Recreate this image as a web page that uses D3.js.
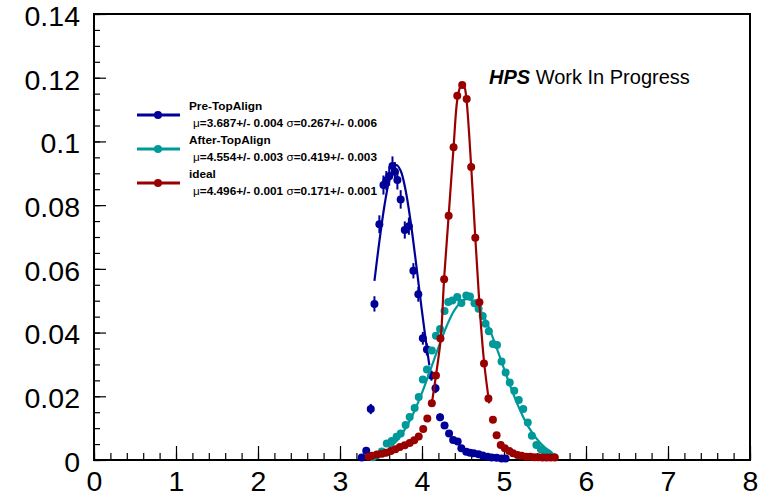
<!DOCTYPE html>
<html>
<head>
<meta charset="utf-8">
<script src="https://cdn.jsdelivr.net/npm/d3@7"></script>
<style>
  body { margin: 0; background: #fff; }
  text { font-family: "Liberation Sans", Helvetica, Arial, sans-serif; }
</style>
</head>
<body>
<div id="chart"></div>
<script>
// values
var xTicks = [0, 1, 2, 3, 4, 5, 6, 7, 8];
var yTicks = [0, 0.02, 0.04, 0.06, 0.08, 0.1, 0.12, 0.14];
var yTickLabels = ["0", "0.02", "0.04", "0.06", "0.08", "0.1", "0.12", "0.14"];

var preX = [3.265, 3.32, 3.375, 3.42, 3.48, 3.53, 3.565, 3.60, 3.64, 3.67, 3.70, 3.74, 3.79, 3.84, 3.895, 3.955,
  4.01, 4.06, 4.115, 4.165, 4.22, 4.275, 4.33, 4.38, 4.435, 4.48, 4.54, 4.585, 4.63, 4.69, 4.74, 4.80, 4.85, 4.91, 4.97, 5.02];
var preY = [0.0008, 0.0029, 0.016, 0.049, 0.074, 0.0863, 0.0877, 0.0891, 0.0923, 0.0905, 0.0879, 0.0818, 0.0722, 0.0734, 0.0594, 0.052,
  0.0382, 0.0347, 0.0265, 0.0225, 0.0134, 0.0108, 0.0083, 0.0063, 0.0058, 0.0037, 0.0026, 0.0023, 0.0021, 0.0018, 0.0014, 0.0010, 0.0008, 0.0007, 0.0005, 0.0005];
var preErr = [0.0004, 0.0007, 0.0016, 0.0024, 0.0028, 0.003, 0.003, 0.003, 0.003, 0.003, 0.003, 0.0029, 0.0027, 0.0027, 0.0024, 0.0023,
  0.002, 0.0019, 0.0016, 0.0015, 0.0012, 0.001, 0.0009, 0.0008, 0.0008, 0.0006, 0.0005, 0.0005, 0.0005, 0.0004, 0.0004, 0.0003, 0.0003, 0.0003, 0.0002, 0.0002];

var afterX = [3.40, 3.45, 3.51, 3.57, 3.63, 3.69, 3.74, 3.80, 3.85, 3.91, 3.96, 4.01, 4.06, 4.12, 4.17, 4.22, 4.275, 4.32, 4.37, 4.43,
  4.48, 4.54, 4.585, 4.64, 4.69, 4.74, 4.775, 4.815, 4.865, 4.915, 4.97, 5.02, 5.07, 5.125, 5.18, 5.235, 5.29, 5.34, 5.395, 5.45, 5.50, 5.55, 5.60];
var afterY = [0.0009, 0.0015, 0.0027, 0.0052, 0.006, 0.0073, 0.0083, 0.0110, 0.0135, 0.0163, 0.0198, 0.0253, 0.0284, 0.0344, 0.0390, 0.0411, 0.0468, 0.0496, 0.0501, 0.0512,
  0.0493, 0.0516, 0.0513, 0.0492, 0.0475, 0.0452, 0.0428, 0.0404, 0.0364, 0.0361, 0.0309, 0.0275, 0.0243, 0.0217, 0.0188, 0.0160, 0.0118, 0.0076, 0.0047, 0.0034, 0.0024, 0.0018, 0.0010];

var idealX = [3.35, 3.39, 3.45, 3.51, 3.56, 3.62, 3.675, 3.73, 3.79, 3.85, 3.905, 3.96, 4.015, 4.065, 4.12, 4.17, 4.225, 4.27, 4.325, 4.385,
  4.43, 4.49, 4.545, 4.60, 4.65, 4.70, 4.756, 4.81, 4.865, 4.91, 4.96, 5.01, 5.065, 5.11, 5.165, 5.215, 5.27, 5.32, 5.37, 5.42, 5.47, 5.52, 5.57, 5.62];
var idealY = [0.0010, 0.0013, 0.0017, 0.0020, 0.0023, 0.0028, 0.0034, 0.0041, 0.0046, 0.0053, 0.0062, 0.0074, 0.0097, 0.0130, 0.0178, 0.0265, 0.0381, 0.0567, 0.0767, 0.0982,
  0.1143, 0.1177, 0.1133, 0.0920, 0.0698, 0.0495, 0.0303, 0.0193, 0.0126, 0.0078, 0.0047, 0.0037, 0.0028, 0.0021, 0.0016, 0.0013, 0.0010, 0.0010, 0.0009, 0.0009, 0.0008, 0.0008, 0.0008, 0.0008];

// fitted curves, as drawn
var preFitX = [3.42, 3.48, 3.54, 3.60, 3.65, 3.69, 3.74, 3.80, 3.86, 3.92, 3.98, 4.04, 4.09];
var preFitY = [0.0562, 0.0686, 0.0795, 0.0878, 0.0917, 0.0926, 0.0908, 0.0847, 0.0751, 0.0633, 0.0507, 0.0387, 0.0297];
var afterFitX = [3.60, 3.70, 3.80, 3.90, 4.00, 4.10, 4.20, 4.30, 4.40, 4.50, 4.55, 4.60, 4.70, 4.80, 4.90, 5.00, 5.10, 5.20, 5.30, 5.40, 5.50, 5.57];
var afterFitY = [0.0038, 0.0063, 0.0100, 0.0149, 0.0211, 0.0281, 0.0353, 0.0420, 0.0472, 0.0501, 0.0505, 0.0502, 0.0475, 0.0425, 0.0359, 0.0287, 0.0216, 0.0154, 0.0103, 0.0066, 0.0039, 0.0027];
var idealFitX = [4.12, 4.17, 4.228, 4.27, 4.325, 4.385, 4.43, 4.47, 4.49, 4.52, 4.545, 4.60, 4.65, 4.70, 4.756, 4.82];
var idealFitY = [0.0178, 0.0265, 0.038, 0.057, 0.0767, 0.0982, 0.113, 0.1175, 0.1183, 0.117, 0.1125, 0.092, 0.0698, 0.049, 0.031, 0.0178];

var seriesNames = ["Pre-TopAlign", "After-TopAlign", "ideal"];
var seriesColors = ["#000099", "#009999", "#990000"];
var fitMu = ["3.687+/- 0.004", "4.554+/- 0.003", "4.496+/- 0.001"];
var fitSigma = ["0.267+/- 0.006", "0.419+/- 0.003", "0.171+/- 0.001"];

var width = 765, height = 500;
var frame = {left: 94, right: 750, top: 14, bottom: 460};

var svg = d3.select("#chart").append("svg")
  .attr("width", width)
  .attr("height", height);

var x = d3.scaleLinear().domain([0, 8]).range([frame.left, frame.right]);
var y = d3.scaleLinear().domain([0, 0.14]).range([frame.bottom, frame.top]);

// minor ticks
svg.append("g")
  .attr("transform", "translate(0," + frame.bottom + ")")
  .call(d3.axisBottom(x).tickValues(d3.range(0, 8.001, 0.2)).tickSize(-7).tickFormat(""))
  .call(function(g){ g.select(".domain").remove(); });
svg.append("g")
  .attr("transform", "translate(" + frame.left + ",0)")
  .call(d3.axisLeft(y).tickValues(d3.range(0, 0.1401, 0.005)).tickSize(-6).tickFormat(""))
  .call(function(g){ g.select(".domain").remove(); });

// major ticks + labels
var xAxis = svg.append("g")
  .attr("transform", "translate(0," + frame.bottom + ")")
  .call(d3.axisBottom(x).tickValues(xTicks).tickSize(-14).tickPadding(11).tickFormat(d3.format("d")));
var yAxis = svg.append("g")
  .attr("transform", "translate(" + frame.left + ",0)")
  .call(d3.axisLeft(y).tickValues(yTicks).tickSize(-12).tickPadding(14)
    .tickFormat(function(d, i){ return yTickLabels[i]; }));
[xAxis, yAxis].forEach(function(g){
  g.select(".domain").remove();
  g.selectAll("text").attr("font-size", 28.5).attr("fill", "#000")
    .style("font-family", "'Liberation Sans', Helvetica, Arial, sans-serif");
});
yAxis.selectAll("text").attr("dy", "0.4em");
svg.selectAll(".tick line").attr("stroke", "#000").attr("stroke-width", 1.2);

svg.append("rect")
  .attr("x", frame.left).attr("y", frame.top)
  .attr("width", frame.right - frame.left).attr("height", frame.bottom - frame.top)
  .attr("fill", "none").attr("stroke", "#000").attr("stroke-width", 2);

var line = d3.line()
  .x(function(d){ return x(d[0]); })
  .y(function(d){ return y(d[1]); })
  .curve(d3.curveCatmullRom);

var zip = function(a, b){ return a.map(function(v, i){ return [v, b[i]]; }); };

var series = [
  {pts: zip(preX, preY), err: preErr, fit: zip(preFitX, preFitY)},
  {pts: zip(afterX, afterY), err: null, fit: zip(afterFitX, afterFitY)},
  {pts: zip(idealX, idealY), err: null, fit: zip(idealFitX, idealFitY)}
];

series.forEach(function(s, k){
  var g = svg.append("g").attr("class", "series" + k);
  var col = seriesColors[k];
  if (s.err) {
    g.selectAll("line.err").data(s.pts).enter().append("line")
      .attr("class", "err")
      .attr("x1", function(d){ return x(d[0]); })
      .attr("x2", function(d){ return x(d[0]); })
      .attr("y1", function(d, i){ return y(d[1] - s.err[i]); })
      .attr("y2", function(d, i){ return y(d[1] + s.err[i]); })
      .attr("stroke", col).attr("stroke-width", 2);
  }
  g.selectAll("circle").data(s.pts).enter().append("circle")
    .attr("cx", function(d){ return x(d[0]); })
    .attr("cy", function(d){ return y(d[1]); })
    .attr("r", 4)
    .attr("fill", col);
  g.append("path")
    .attr("d", line(s.fit))
    .attr("fill", "none")
    .attr("stroke", col)
    .attr("stroke-width", 2.2);
});

// legend
var legend = svg.append("g").attr("class", "legend");
var legRowY = [115, 149, 183];
seriesNames.forEach(function(name, i){
  var ly = legRowY[i];
  legend.append("line")
    .attr("x1", 137).attr("x2", 180).attr("y1", ly).attr("y2", ly)
    .attr("stroke", seriesColors[i]).attr("stroke-width", 3);
  legend.append("circle")
    .attr("cx", 158).attr("cy", ly).attr("r", 4).attr("fill", seriesColors[i]);
  legend.append("text")
    .attr("x", 189).attr("y", ly - 5)
    .attr("font-size", 11.8).attr("font-weight", "bold")
    .text(name);
  var t = legend.append("text")
    .attr("x", 193).attr("y", ly + 12)
    .attr("font-size", 11.8).attr("font-weight", "bold");
  t.append("tspan").attr("font-weight", "normal").text("\u03bc");
  t.append("tspan").text("=" + fitMu[i] + " ");
  t.append("tspan").attr("font-weight", "normal").text("\u03c3");
  t.append("tspan").text("=" + fitSigma[i]);
});

var label = svg.append("text")
  .attr("x", 489).attr("y", 84)
  .attr("font-size", 20);
label.append("tspan").attr("font-weight", "bold").attr("font-style", "italic").text("HPS");
label.append("tspan").text(" Work In Progress");
</script>
</body>
</html>
